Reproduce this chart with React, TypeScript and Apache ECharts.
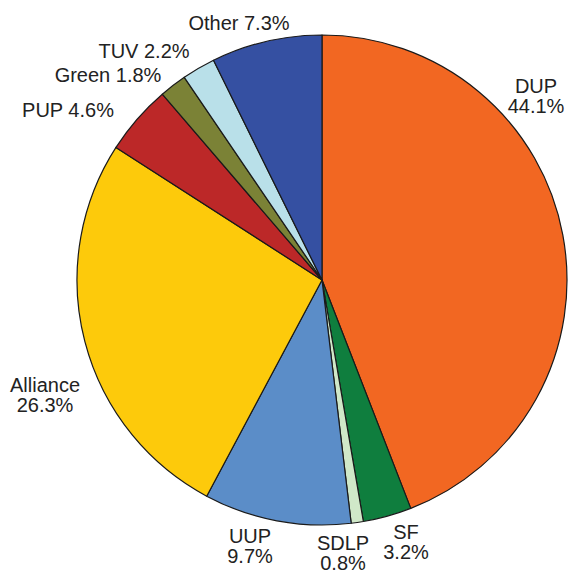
import React, { useEffect, useRef } from "react";
import * as echarts from "echarts";

const parties = ["DUP", "SF", "SDLP", "UUP", "Alliance", "PUP", "Green", "TUV", "Other"];
const shares = [44.1, 3.2, 0.8, 9.7, 26.3, 4.6, 1.8, 2.2, 7.3];
const colors = ["#F26722", "#0F7E3E", "#D0E8C8", "#5B8DC8", "#FDCA0B", "#BC2828", "#7B8236", "#B9E0E9", "#3550A2"];
const twoLine = [true, true, true, true, true, false, false, false, false];
// label centres (layout only)
const labelPos: [number, number][] = [
  [536, 96], [406, 542], [343, 553], [250, 546], [45, 395],
  [68, 110], [108, 75], [144, 51], [239, 23],
];

export default function App() {
  const ref = useRef<HTMLDivElement>(null);
  useEffect(() => {
    document.body.style.margin = "0";
    const chart = echarts.init(ref.current!, null, { renderer: "svg" });
    chart.setOption({
      animation: false,
      backgroundColor: "#ffffff",
      series: [
        {
          type: "pie",
          center: [322, 280],
          radius: 245,
          startAngle: 90,
          clockwise: true,
          avoidLabelOverlap: false,
          itemStyle: { borderColor: "#1a1a1a", borderWidth: 1.2 },
          label: {
            show: true,
            position: "outside",
            fontFamily: "Liberation Sans",
            fontSize: 20,
            lineHeight: 20,
            color: "#222",
            align: "center",
            formatter: (p: any) =>
              twoLine[p.dataIndex] ? `${p.name}\n${p.value.toFixed(1)}%` : `${p.name} ${p.value.toFixed(1)}%`,
          },
          labelLine: { show: false },
          labelLayout: (p: any) => ({
            x: labelPos[p.dataIndex][0],
            y: labelPos[p.dataIndex][1],
            align: "center",
            verticalAlign: "middle",
          }),
          emphasis: { disabled: true },
          data: parties.map((n, i) => ({ name: n, value: shares[i], itemStyle: { color: colors[i] } })),
        },
      ],
    });
    return () => chart.dispose();
  }, []);
  return <div ref={ref} style={{ width: 568, height: 574 }} />;
}
